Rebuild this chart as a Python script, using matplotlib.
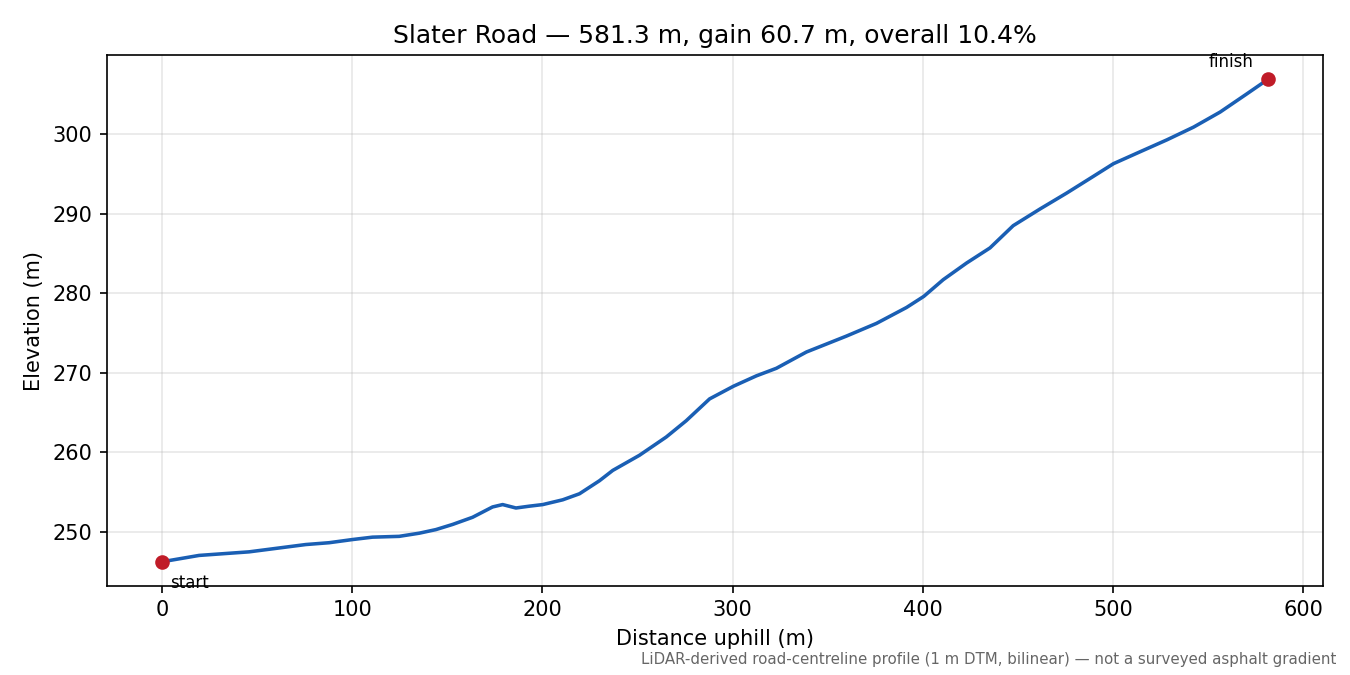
import matplotlib
matplotlib.use("Agg")
import matplotlib.pyplot as plt
import numpy as np

distance_m = [0, 19.5, 45.8, 75.6, 87.9, 100.2, 110.7, 124.7, 135.3, 144, 152.8,
              163.3, 173.8, 179.1, 186.1, 193.2, 200.2, 210.7, 219.5, 230, 237,
              251, 265.1, 275.6, 287.9, 300.5, 312.5, 323, 338.8, 359.8, 375.6,
              391.4, 400.5, 410.7, 423, 435.3, 447.5, 461.6, 475.6, 489.6, 500.2,
              514.2, 528.3, 542.3, 556.3, 570.4, 581.3]
elevation_m = [246.2, 247.0, 247.45, 248.37, 248.6, 249.0, 249.3, 249.4, 249.8, 250.25, 250.9,
               251.8, 253.1, 253.4, 252.97, 253.2, 253.4, 254.0, 254.76, 256.4, 257.7,
               259.6, 261.9, 263.95, 266.7, 268.3, 269.6, 270.55, 272.6, 274.6, 276.2,
               278.2, 279.6, 281.7, 283.8, 285.7, 288.5, 290.6, 292.6, 294.7, 296.3,
               297.8, 299.3, 300.9, 302.8, 305.1, 306.9]

title = "Slater Road \u2014 581.3 m, gain 60.7 m, overall 10.4%"
footnote = "LiDAR-derived road-centreline profile (1 m DTM, bilinear) \u2014 not a surveyed asphalt gradient"

fig, ax = plt.subplots(figsize=(9, 4.5), dpi=150)
fig.subplots_adjust(left=0.079, right=0.98, top=0.918, bottom=0.132)

ax.plot(distance_m, elevation_m, color="#1a5fb4", linewidth=1.7, zorder=2)
ax.plot([distance_m[0], distance_m[-1]], [elevation_m[0], elevation_m[-1]],
        "o", color="#c01c28", markersize=6, zorder=3)

ax.annotate("start", (distance_m[0], elevation_m[0]), xytext=(4, -6),
            textcoords="offset points", ha="left", va="top", fontsize=8)
ax.annotate("finish", (distance_m[-1], elevation_m[-1]), xytext=(-7, 4),
            textcoords="offset points", ha="right", va="bottom", fontsize=8)

ax.set_title(title, fontsize=12)
ax.set_xlabel("Distance uphill (m)")
ax.set_ylabel("Elevation (m)")
ax.grid(True, alpha=0.3)

fig.text(0.99, 0.012, footnote, ha="right", va="bottom", fontsize=7.2, color="0.4")

fig.savefig("out.png", dpi=150)
